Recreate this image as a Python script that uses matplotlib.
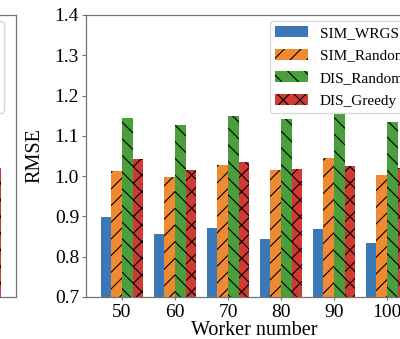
import matplotlib.pyplot as plt
import numpy as np

plt.rcParams["font.family"] = ["Liberation Serif", "DejaVu Serif"]
plt.rcParams["hatch.linewidth"] = 0.8

workers = ["50", "60", "70", "80", "90", "100"]
sim_wrgs = [0.898, 0.856, 0.872, 0.844, 0.869, 0.833]
sim_random = [1.013, 0.998, 1.028, 1.015, 1.044, 1.002]
dis_random = [1.143, 1.128, 1.150, 1.142, 1.155, 1.134]
dis_greedy = [1.042, 1.016, 1.035, 1.018, 1.024, 1.020]

# neighbouring panel, only its last bar shows at the left edge
left_greedy_last = 1.01

labels = ["SIM_WRGS", "SIM_Random", "DIS_Random", "DIS_Greedy"]
colors = ["#3b78b8", "#f08a32", "#4a9e3c", "#d03a34"]
hatches = ["", "//", "\\\\", "xx"]

fig = plt.figure(figsize=(4.0, 3.39), dpi=100)
ax = fig.add_axes([0.215, 0.124, 0.8425, 0.832])
ax0 = fig.add_axes([0.215 - 1.0175, 0.124, 0.8425, 0.832])

x = np.arange(len(workers))
w = 0.2
series = [sim_wrgs, sim_random, dis_random, dis_greedy]
leg_kw = dict(loc="upper right", bbox_to_anchor=(0.965, 0.977),
              borderaxespad=0, fontsize=11, handlelength=2.2,
              handletextpad=0.75, labelspacing=0.58, borderpad=0.32)


def style(a):
    for s in a.spines.values():
        s.set_color("0.45")
        s.set_linewidth(0.9)
    a.tick_params(colors="0.45", labelcolor="black")


for i, vals in enumerate(series):
    ax.bar(x + (i - 1.5) * w, vals, w, color=colors[i], hatch=hatches[i],
           label=labels[i], linewidth=0)

ax.set_xticks(x)
ax.set_xticklabels(workers)
ax.set_xlim(-0.68, 5.68)
ax.set_ylim(0.7, 1.4)
ax.set_yticks(np.arange(0.7, 1.41, 0.1))
style(ax)
ax.tick_params(axis="both", labelsize=14, length=3)
ax.tick_params(axis="x", length=2, pad=3)
ax.tick_params(axis="y", pad=2)
ax.set_ylabel("RMSE", fontsize=14.5, labelpad=7)
ax.set_xlabel("Worker number", fontsize=14.5, labelpad=0)
ax.legend(**leg_kw)

# left panel stub
for i, vals in enumerate(series):
    ax0.bar(x + (i - 1.5) * w, vals, w, color=colors[i], hatch=hatches[i],
            label=labels[i], linewidth=0)
ax0.bar(5 + 1.5 * w, left_greedy_last, w, color=colors[3], hatch=hatches[3],
        linewidth=0)
ax0.set_xlim(-0.68, 5.68)
ax0.set_ylim(0.7, 1.4)
ax0.set_xticks([])
ax0.set_yticks([])
style(ax0)
ax0.legend(**leg_kw)

fig.savefig("out.png", dpi=100)
